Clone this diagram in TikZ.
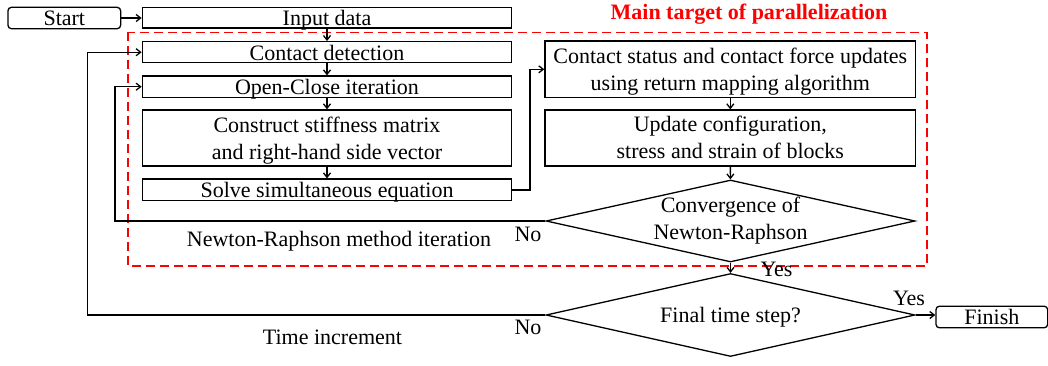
\documentclass[tikz,border=0pt]{standalone}
\usepackage{fontspec}
\setmainfont{Liberation Serif}
\usetikzlibrary{arrows.meta,shapes.geometric}

\begin{document}
\begin{tikzpicture}[x=1pt,y=-1pt,
  box/.style={draw, line width=1.3pt, minimum width=369.4pt, inner sep=0pt},
  term/.style={draw, line width=1.3pt, rounded corners=3.5pt, inner sep=0pt},
  decision/.style={draw, diamond, line width=1.3pt, minimum width=369pt, inner sep=0pt},
  txt/.style={anchor=base, inner sep=0pt, font=\fontsize{22}{26}\selectfont},
  flow/.style={line width=1.3pt, -{Straight Barb[length=4.5pt,width=7pt]}},
  zone/.style={draw=red, line width=1.6pt, dash pattern=on 9pt off 5pt}]

\useasboundingbox (0,0) rectangle (1048,365);

% region handled in parallel
\draw[zone] (127.7,32.3) rectangle (926.7,266);
\node[txt, font=\fontsize{22}{26}\selectfont\bfseries, text=red] (ttitle) at (749,19.5) {Main target of parallelization};

% terminals and process boxes
\node[term, minimum width=112.7pt, minimum height=21.4pt] (start) at (64.3,18) {};
\node[box, minimum height=20.7pt] (input) at (327,17.7) {};
\node[box, minimum height=21pt] (detect) at (327,52.2) {};
\node[box, minimum height=21.3pt] (openclose) at (327,86.7) {};
\node[box, minimum height=56pt] (stiff) at (327,138) {};
\node[box, minimum height=21.7pt] (solve) at (327,189.9) {};
\node[box, minimum width=370.7pt, minimum height=56.7pt] (status) at (730.3,69.3) {};
\node[box, minimum width=370.7pt, minimum height=56pt] (update) at (730.3,138) {};
\node[decision, minimum height=82pt] (conv) at (730.5,221) {};
\node[decision, minimum height=83pt] (final) at (730.5,315) {};
\node[term, minimum width=111.7pt, minimum height=21.6pt] (finish) at (991.8,317) {};

% box texts
\node[txt] (tstart) at ([yshift=-7.5pt]start.center) {Start};
\node[txt] (tinput) at ([yshift=-8pt]input.center) {Input data};
\node[txt] (tdetect) at ([yshift=-8pt]detect.center) {Contact detection};
\node[txt] (topen) at ([yshift=-8pt]openclose.center) {Open-Close iteration};
\node[txt] (tstiffa) at ([yshift=6pt]stiff.center) {Construct stiffness matrix};
\node[txt] (tstiffb) at ([yshift=-21pt]stiff.center) {and right-hand side vector};
\node[txt] (tsolve) at ([yshift=-8pt]solve.center) {Solve simultaneous equation};
\node[txt] (tstatusa) at ([yshift=6pt]status.center) {Contact status and contact force updates};
\node[txt] (tstatusb) at ([yshift=-20.7pt]status.center) {using return mapping algorithm};
\node[txt] (tupdatea) at ([yshift=6.3pt]update.center) {Update configuration,};
\node[txt] (tupdateb) at ([yshift=-20.3pt]update.center) {stress and strain of blocks};
\node[txt] (tconva) at ([yshift=8.3pt]conv.center) {Convergence of};
\node[txt] (tconvb) at ([yshift=-18pt]conv.center) {Newton-Raphson};
\node[txt] (tfinal) at ([yshift=-7.3pt]final.center) {Final time step?};
\node[txt] (tfinish) at ([yshift=-7.3pt]finish.center) {Finish};

% connector labels
\node[txt] (lnoa) at (528,241) {No};
\node[txt] (lnob) at (528,334.3) {No};
\node[txt] (lyesa) at (776.5,276) {Yes};
\node[txt] (lyesb) at (909,305) {Yes};
\node[txt] (lnr) at (339,246.7) {Newton-Raphson method iteration};
\node[txt] (ltime) at (332.5,344.3) {Time increment};

% turning points of the loops
\coordinate (sturn) at (530,189.9);
\coordinate (nrturn) at (115,221);
\coordinate (tturn) at (87.3,315);

% main flow
\draw[flow] (start.east) -- (start.east -| input.west);
\draw[flow] (input) -- (detect);
\draw[flow] (detect) -- (openclose);
\draw[flow] (openclose) -- (stiff);
\draw[flow] (stiff) -- (solve);
\draw[flow] (solve.east) -- (sturn) |- (status.west);
\draw[flow] (status) -- (update);
\draw[flow] (update) -- (conv);
\draw[flow] (conv) -- (final);
\draw[flow] (final.east) -- (final.east -| finish.west);

% iteration loops
\draw[flow] (conv.west) -- (nrturn) |- (openclose.west);
\draw[flow] (final.west) -- (tturn) |- (detect.west);
\end{tikzpicture}
\end{document}
